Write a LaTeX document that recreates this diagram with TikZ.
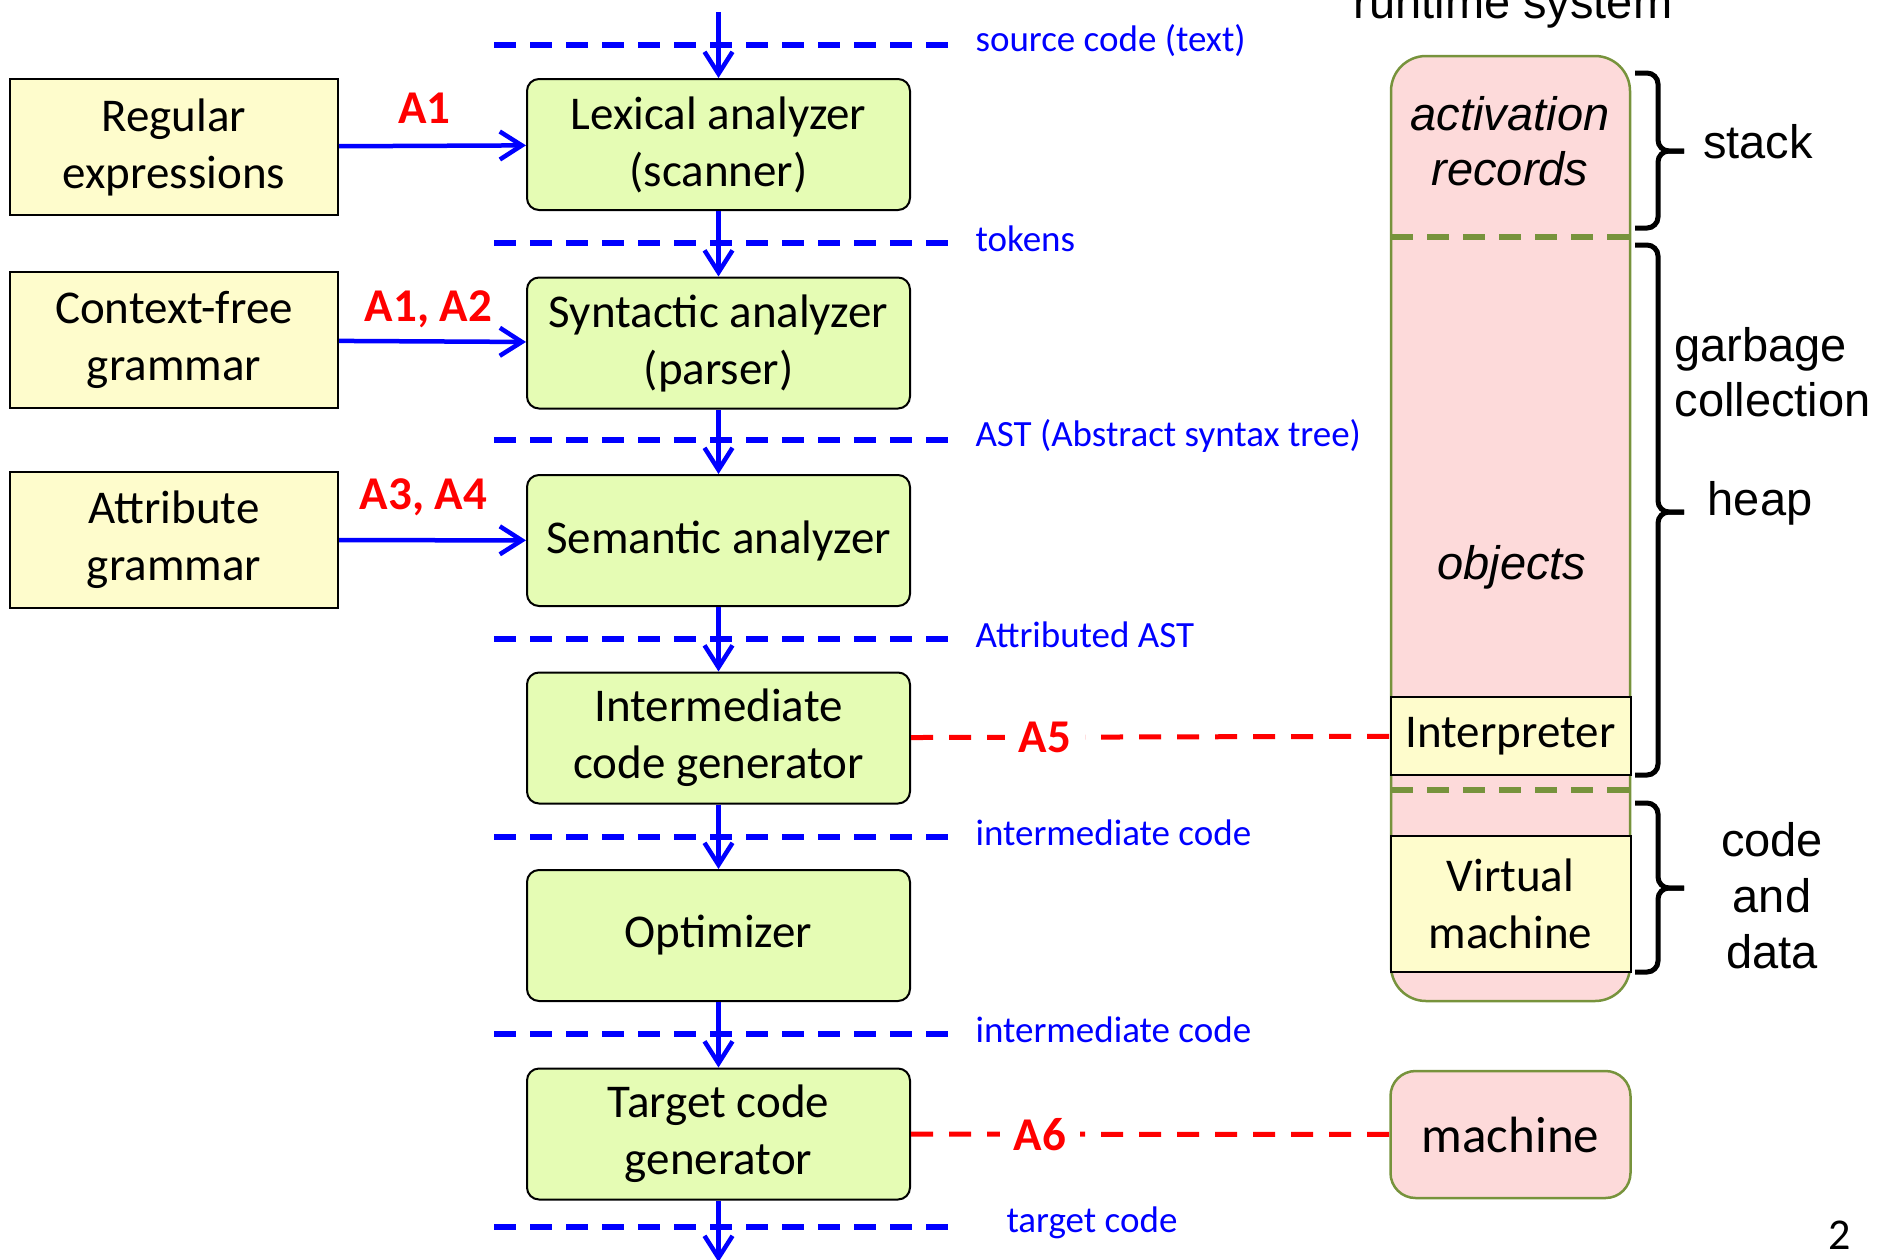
\documentclass[tikz,border=0pt]{standalone}
\usepackage{fontspec}
\setmainfont{Carlito}
\newfontfamily\arialfont{Liberation Sans}
\usetikzlibrary{arrows.meta}

\definecolor{stagegreen}{RGB}{229,252,180}
\definecolor{specyellow}{RGB}{254,252,204}
\definecolor{rtpink}{RGB}{253,218,218}
\definecolor{rtolive}{RGB}{119,147,60}

\begin{document}
\begin{tikzpicture}[x=1pt,y=-1pt,
  >={Straight Barb[length=22pt,width=28pt]},
  big/.style={font=\fontsize{47}{57}\selectfont},
  stage/.style={big,rectangle,rounded corners=12pt,draw,line width=2pt,fill=stagegreen,
    minimum width=383pt,minimum height=131pt,align=center},
  spec/.style={big,rectangle,draw,line width=2pt,fill=specyellow,
    minimum width=328pt,minimum height=136pt,align=center},
  part/.style={big,rectangle,draw,line width=2pt,fill=specyellow,minimum width=240pt,align=center},
  flow/.style={->,blue,line width=4.5pt},
  sep/.style={blue,line width=6pt,dash pattern=on 22pt off 14pt},
  tag/.style={blue,anchor=west,font=\fontsize{37}{44}\selectfont},
  task/.style={red,font=\bfseries\fontsize{47}{57}\selectfont},
  link/.style={red,line width=5pt,dash pattern=on 22pt off 16pt},
  rt/.style={font=\arialfont\fontsize{47}{55}\selectfont,align=center},
  bracket/.style={line width=5pt,rounded corners=11pt}]
\useasboundingbox (0,0) rectangle (1877,1259);

\foreach \y/\x/\txt [count=\i] in {45/972/source code (text),243/972/tokens,
    440/972/AST (Abstract syntax tree),639/972/Attributed AST,837/972/intermediate code,
    1034/972/intermediate code,1227/1003/target code}{
  \draw[sep] (494,\y) -- (952,\y);
  \path (\x,\y) node[tag,yshift=4pt] (tag\i) {\txt};
}

\path (718.5,144.5) node[stage] (lex) {Lexical analyzer\\(scanner)};
\path (718.5,343) node[stage] (syn) {Syntactic analyzer\\(parser)};
\path (718.5,540.5) node[stage] (sem) {Semantic analyzer};
\path (718.5,738) node[stage] (icg) {Intermediate\\code generator};
\path (718.5,935.5) node[stage] (opt) {Optimizer};
\path (718.5,1134) node[stage] (tcg) {Target code\\generator};

\path (174,147) node[spec] (regex) {Regular\\expressions};
\path (174,340) node[spec] (cfg) {Context-free\\grammar};
\path (174,540) node[spec] (ag) {Attribute\\grammar};

\coordinate (src) at (718.5,12);
\coordinate (out) at (718.5,1262);
\draw[flow] (src) -- (lex);
\draw[flow] (lex) -- (syn);
\draw[flow] (syn) -- (sem);
\draw[flow] (sem) -- (icg);
\draw[flow] (icg) -- (opt);
\draw[flow] (opt) -- (tcg);
\draw[flow] (tcg) -- (out);

\draw[flow] (regex) -- node[task,above=17pt,xshift=-8pt] (a1) {A1} (lex);
\draw[flow] (cfg) -- node[task,above=8pt,xshift=-4pt] (a12) {A1, A2} (syn);
\draw[flow] (ag) -- node[task,above=19pt,xshift=-9pt] (a34) {A3, A4} (sem);

\draw[rtolive,line width=2.5pt,fill=rtpink,rounded corners=35pt] (1391,56) rectangle (1630,1001);
\draw[rtolive,line width=6pt,dash pattern=on 22pt off 14pt] (1391,237) -- (1630,237);
\draw[rtolive,line width=6pt,dash pattern=on 22pt off 14pt] (1391,790) -- (1630,790);
\path (1510.5,736) node[part,minimum height=78pt] (interp) {Interpreter};
\path (1510.5,904) node[part,minimum height=136pt] (vm) {Virtual\\machine};
\path (1510.5,1134.5) node[big,rectangle,rounded corners=25pt,draw=rtolive,line width=2.5pt,
  fill=rtpink,minimum width=240pt,minimum height=127pt,font=\fontsize{51}{60}\selectfont] (mach) {machine};

\draw[link] (icg) -- node[task,fill=white,inner xsep=14pt,pos=0.28] (a5) {A5} (interp);
\draw[link] (tcg) -- node[task,fill=white,inner xsep=14pt,pos=0.27] (a6) {A6} (mach);

\path (1513,18) node[rt,anchor=base] (rts) {runtime system};
\path (1510,141) node[rt,font=\arialfont\itshape\fontsize{47}{55}\selectfont] (ar) {activation\\records};
\path (1512,567) node[rt,font=\arialfont\itshape\fontsize{47}{55}\selectfont] (obj) {objects};

\foreach \ya/\ym/\yb in {73/151/228,245/512/775,803/888/972}{
  \draw[bracket] (1635,\ya) -| (1658,\ym) -- (1684,\ym);
  \draw[bracket] (1635,\yb) -| (1658,\ym) -- (1684,\ym);
}
\path (1758,142) node[rt] (stk) {stack};
\path (1671,372.5) node[rt,anchor=west,align=left] (gc) {garbage\\collection};
\path (1760,503) node[rt] (heap) {heap};
\path (1772,896) node[rt,font=\arialfont\fontsize{47}{56}\selectfont] (cd) {code\\and\\data};

\path (1840,1235) node[font=\fontsize{44}{50}\selectfont] (pg) {2};
\end{tikzpicture}
\end{document}
